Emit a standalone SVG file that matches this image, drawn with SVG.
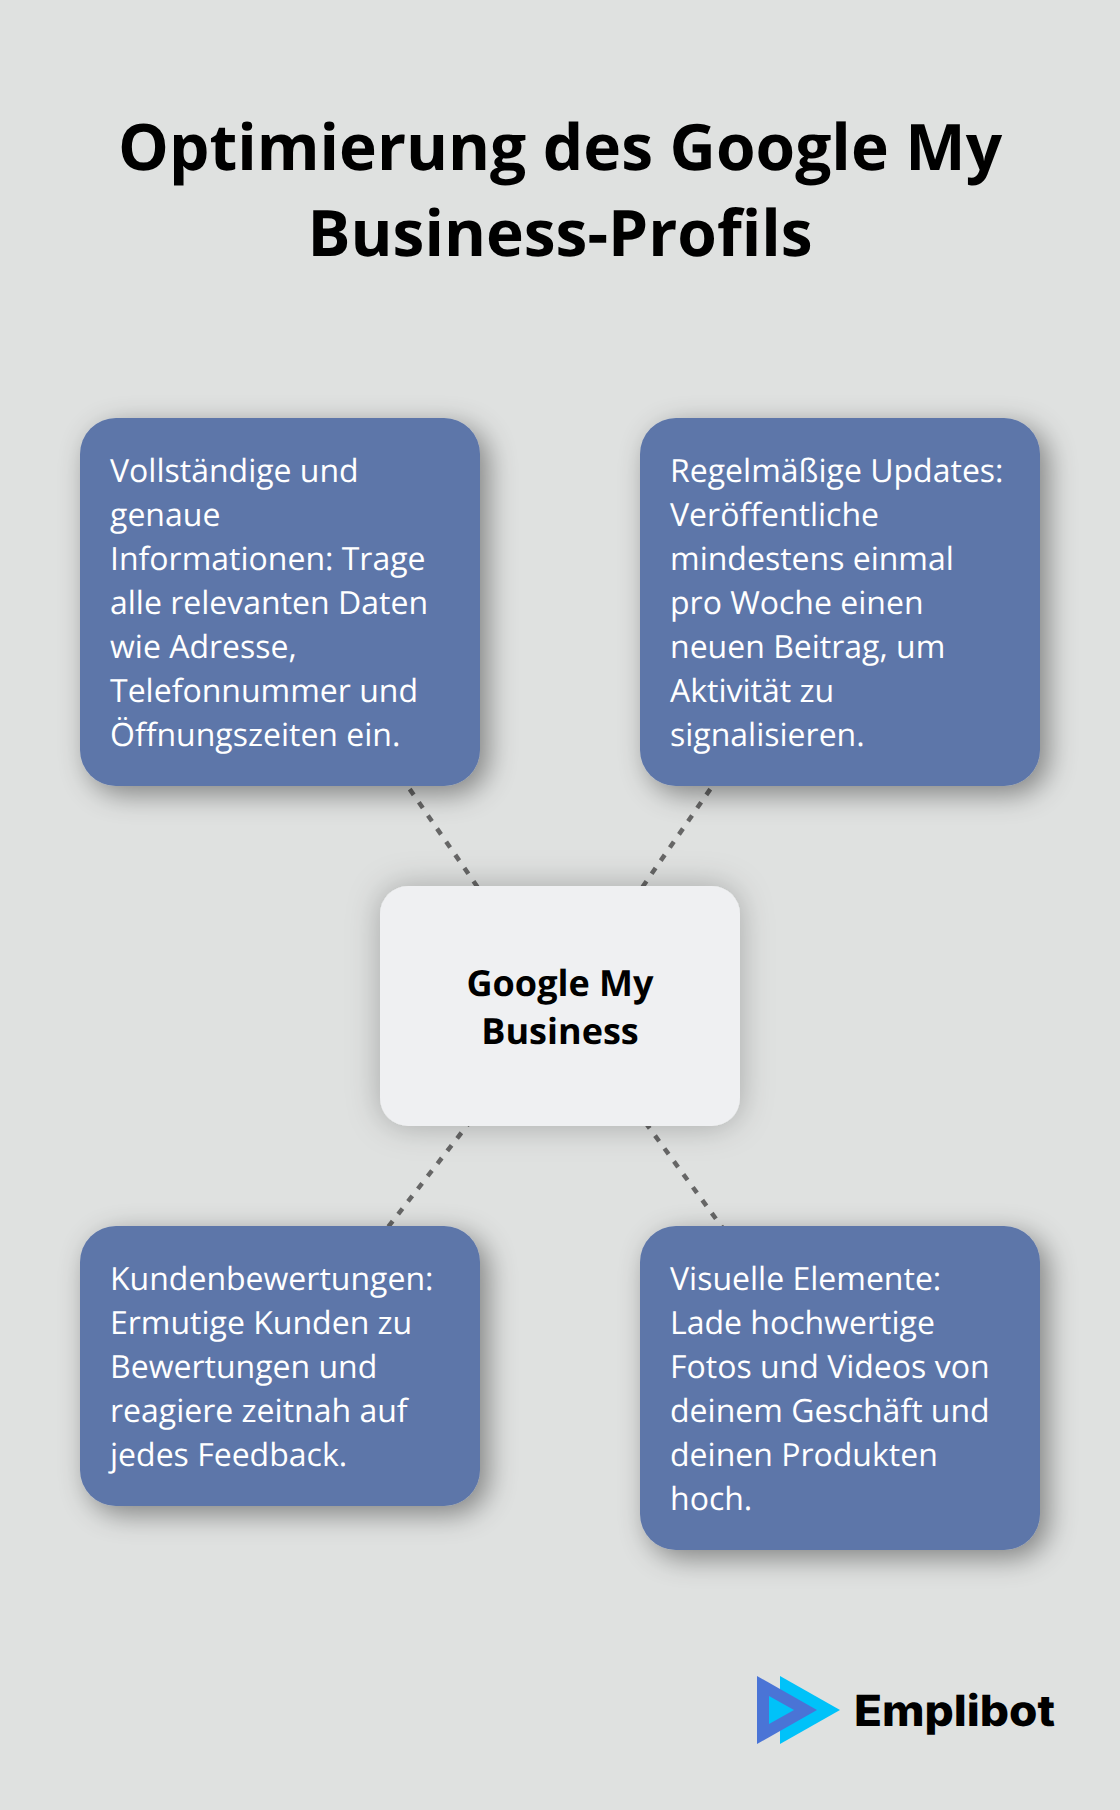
<svg xmlns="http://www.w3.org/2000/svg" width="1120" height="1810" viewBox="0 0 1120 1810">
<style>
text{font-family:"Open Sans","Noto Sans",sans-serif;text-rendering:geometricPrecision}
.t{font-size:64px;font-weight:700;fill:#000;text-anchor:middle}
.b{font-size:32px;fill:#fff}
.c{font-size:36px;font-weight:700;fill:#000;text-anchor:middle}
.box{fill:#5d76a9;filter:url(#s)}
.mid{fill:#eff0f2;filter:url(#s2)}
.l{stroke:#666;stroke-width:4.5;stroke-dasharray:7 9;fill:none}
</style>
<defs>
<filter id="s" x="-20%" y="-20%" width="150%" height="150%"><feDropShadow dx="8" dy="8" stdDeviation="14" flood-color="#000" flood-opacity=".42"/></filter>
<filter id="s2" x="-25%" y="-25%" width="150%" height="150%"><feDropShadow dx="0" dy="0" stdDeviation="16" flood-color="#000" flood-opacity=".26"/></filter>
</defs>
<rect width="1120" height="1810" fill="#dfe1e0"/>
<g id="title"><text class="t" x="560" y="169.5">Optimierung des Google My</text><text class="t" x="560" y="256">Business-Profils</text></g>
<g id="connectors">
<line class="l" x1="280" y1="602" x2="560" y2="1006" stroke-dashoffset="-3.7"/>
<line class="l" x1="840" y1="602" x2="560" y2="1006" stroke-dashoffset="-3.7"/>
<line class="l" x1="280" y1="1366" x2="560" y2="1006" stroke-dashoffset="-0.5"/>
<line class="l" x1="840" y1="1388" x2="560" y2="1006" stroke-dashoffset="-1.9"/>
</g>
<g id="node1"><rect class="box" x="80" y="418" width="400" height="368" rx="36"/>
<text class="b"><tspan x="110" y="482">Vollständige und</tspan><tspan x="110" y="526">genaue</tspan><tspan x="110" y="570">Informationen: Trage</tspan><tspan x="110" y="614">alle relevanten Daten</tspan><tspan x="110" y="658">wie Adresse,</tspan><tspan x="110" y="702">Telefonnummer und</tspan><tspan x="110" y="746">Öffnungszeiten ein.</tspan></text></g>
<g id="node2"><rect class="box" x="640" y="418" width="400" height="368" rx="36"/>
<text class="b"><tspan x="670" y="482">Regelmäßige Updates:</tspan><tspan x="670" y="526">Veröffentliche</tspan><tspan x="670" y="570">mindestens einmal</tspan><tspan x="670" y="614">pro Woche einen</tspan><tspan x="670" y="658">neuen Beitrag, um</tspan><tspan x="670" y="702">Aktivität zu</tspan><tspan x="670" y="746">signalisieren.</tspan></text></g>
<g id="center"><rect class="mid" x="380" y="886" width="360" height="240" rx="28"/>
<text class="c"><tspan x="560" y="996">Google My</tspan><tspan x="560" y="1044">Business</tspan></text></g>
<g id="node3"><rect class="box" x="80" y="1226" width="400" height="280" rx="36"/>
<text class="b"><tspan x="110" y="1290">Kundenbewertungen:</tspan><tspan x="110" y="1334">Ermutige Kunden zu</tspan><tspan x="110" y="1378">Bewertungen und</tspan><tspan x="110" y="1422">reagiere zeitnah auf</tspan><tspan x="110" y="1466">jedes Feedback.</tspan></text></g>
<g id="node4"><rect class="box" x="640" y="1226" width="400" height="324" rx="36"/>
<text class="b"><tspan x="670" y="1290">Visuelle Elemente:</tspan><tspan x="670" y="1334">Lade hochwertige</tspan><tspan x="670" y="1378">Fotos und Videos von</tspan><tspan x="670" y="1422">deinem Geschäft und</tspan><tspan x="670" y="1466">deinen Produkten</tspan><tspan x="670" y="1510">hoch.</tspan></text></g>
<g id="logo">
<polygon points="780,1676 840,1710 780,1744" fill="#00c2f9"/>
<polygon points="757,1676 817,1710 757,1744" fill="#4a74d6"/>
<polygon points="769,1696 794,1710 769,1724" fill="#00c2f9"/>
<text x="854" y="1726" textLength="201" lengthAdjust="spacingAndGlyphs" style="font-family:Inter,Lato,sans-serif;font-size:43px;font-weight:800" fill="#000">Emplibot</text>
</g>
</svg>
